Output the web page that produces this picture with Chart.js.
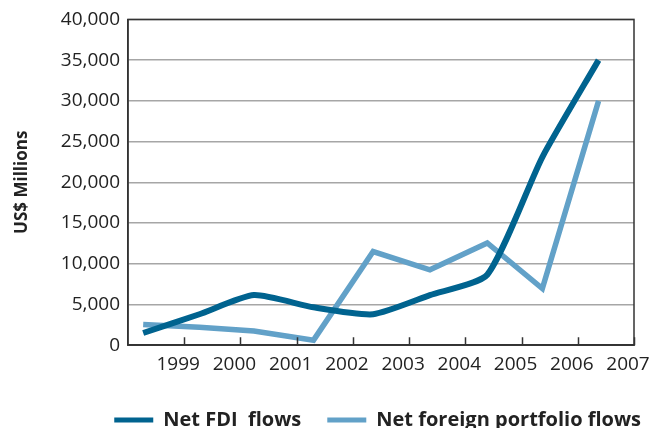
<!DOCTYPE html>
<html>
<head>
<meta charset="utf-8">
<script src="https://cdn.jsdelivr.net/npm/chart.js@4.4.0/dist/chart.umd.min.js"></script>
<style>
  body { margin: 0; background: #fff; }
  #wrap { width: 649px; height: 428px; }
</style>
</head>
<body>
<div id="wrap"><canvas id="flowChart"></canvas></div>
<script>
// years where each observation sits on the time axis
const periods = [1998.27, 1999.27, 2000.24, 2001.3, 2002.36, 2003.37, 2004.39, 2005.37, 2006.37];
const netFdi = [1500, 3800, 6150, 4650, 3800, 6150, 8650, 23100, 35000];
const netPortfolio = [2550, 2200, 1750, 620, 11500, 9250, 12550, 6950, 30000];
const yearTicks = [1999, 2000, 2001, 2002, 2003, 2004, 2005, 2006, 2007];

const FONT = "'Open Sans', sans-serif";

// box round the plot + small ticks pointing up from the x axis
const framePlugin = {
    id: "frame",
    afterDraw(chart) {
        const { ctx, chartArea: a, scales } = chart;
        ctx.save();
        ctx.strokeStyle = "#333";
        ctx.lineWidth = 1.5;
        ctx.strokeRect(a.left, a.top, a.right - a.left, a.bottom - a.top);
        ctx.beginPath();
        yearTicks.forEach(y => {
            const x = Math.round(scales.x.getPixelForValue(y)) + 0.5;
            ctx.moveTo(x, a.bottom);
            ctx.lineTo(x, a.bottom - 8);
        });
        ctx.stroke();
        ctx.restore();
    }
};

function toPoints(values) {
    return values.map((v, i) => ({ x: periods[i], y: v }));
}

const ctx = document.getElementById("flowChart").getContext("2d");
new Chart(ctx, {
    type: "line",
    data: {
        datasets: [{
            label: "Net FDI  flows",
            data: toPoints(netFdi),
            borderColor: "#00638f",
            backgroundColor: "#00638f",
            borderWidth: 6,
            pointRadius: 0,
            tension: 0.2
        }, {
            label: "Net foreign portfolio flows",
            data: toPoints(netPortfolio),
            borderColor: "#62a1c8",
            backgroundColor: "#62a1c8",
            borderWidth: 5.5,
            pointRadius: 0,
            tension: 0
        }]
    },
    options: {
        responsive: true,
        maintainAspectRatio: false,
        animation: false,
        // negative right padding lets the legend run past the plot, as in the original
        layout: { padding: { left: 0, right: -18, top: 19, bottom: -12 } },
        plugins: {
            tooltip: { enabled: false },
            legend: {
                position: "bottom",
                align: "end",
                labels: {
                    boxWidth: 39,
                    boxHeight: 5,
                    padding: 26,
                    color: "#222",
                    font: { family: FONT, size: 20, weight: "bold" },
                    generateLabels: chart => chart.data.datasets.map((ds, i) => ({
                        text: ds.label,
                        fillStyle: ds.borderColor,
                        strokeStyle: ds.borderColor,
                        lineWidth: 0,
                        hidden: false,
                        datasetIndex: i,
                        fontColor: "#222"
                    }))
                }
            }
        },
        scales: {
            x: {
                type: "linear",
                min: 1998,
                max: 2007,
                afterFit: s => { s.paddingRight = 15; },
                ticks: {
                    stepSize: 1,
                    padding: 8,
                    labelOffset: -6,
                    color: "#222",
                    font: { family: FONT, size: 19 },
                    callback: v => (v === 1998 ? "" : String(v))
                },
                grid: { display: false, drawTicks: false },
                border: { color: "#333", width: 1.5 }
            },
            y: {
                min: 0,
                max: 40000,
                afterFit: s => { s.width = 128; },
                ticks: {
                    stepSize: 5000,
                    padding: 8,
                    color: "#222",
                    font: { family: FONT, size: 19 },
                    callback: v => v.toLocaleString("en-US")
                },
                grid: { color: "#a6a6a6", lineWidth: 1.5, drawTicks: false },
                border: { color: "#333", width: 1.5 },
                title: {
                    display: true,
                    text: "US$ Millions",
                    color: "#222",
                    font: { family: FONT, size: 17, weight: "bold" },
                    padding: { top: 12, bottom: 0 }
                }
            }
        }
    },
    plugins: [framePlugin]
});
</script>
</body>
</html>
